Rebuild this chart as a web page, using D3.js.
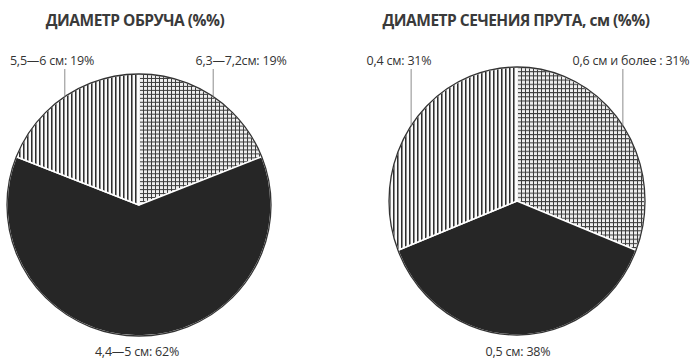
<!DOCTYPE html>
<html>
<head>
<meta charset="utf-8">
<script src="https://cdn.jsdelivr.net/npm/d3@7"></script>
<style>
  body { margin: 0; background: #fff; }
  svg { display: block; }
  .title { font-family: "Open Sans", sans-serif; font-weight: bold; font-size: 15.5px; letter-spacing: -0.5px; fill: #3a3a3a; }
  .lbl { font-family: "Open Sans", sans-serif; font-size: 12.5px; letter-spacing: -0.2px; fill: #333; }
</style>
</head>
<body>
<div id="chart"></div>
<script>

var width = 697,
    height = 359;

// data
var hoopTitle = "ДИАМЕТР ОБРУЧА (%%)";
var hoopLabels = ["6,3—7,2см", "4,4—5 см", "5,5—6 см"];
var hoopValues = [19, 62, 19];

var rodTitle = "ДИАМЕТР СЕЧЕНИЯ ПРУТА, см (%%)";
var rodLabels = ["0,6 см и более ", "0,5 см", "0,4 см"];
var rodValues = [31, 38, 31];

var fillKeys = ["grid", "dark", "vert"];

var svg = d3.select("#chart").append("svg")
    .attr("width", width)
    .attr("height", height);

var defs = svg.append("defs");

// vertical stripes
var pv = defs.append("pattern")
    .attr("id", "vert")
    .attr("patternUnits", "userSpaceOnUse")
    .attr("width", 4).attr("height", 4);
pv.append("rect").attr("width", 4).attr("height", 4).attr("fill", "#fafafa");
pv.append("rect").attr("x", 0).attr("width", 1).attr("height", 4).attr("fill", "#2e2e2e");
pv.append("rect").attr("x", 1).attr("width", 1).attr("height", 4).attr("fill", "#8a8a8a");

// small grid
var pg = defs.append("pattern")
    .attr("id", "grid")
    .attr("patternUnits", "userSpaceOnUse")
    .attr("width", 4).attr("height", 4);
pg.append("rect").attr("width", 4).attr("height", 4).attr("fill", "#eee");
pg.append("rect").attr("x", 0).attr("width", 1).attr("height", 4).attr("fill", "#3c3c3c");
pg.append("rect").attr("y", 0).attr("width", 4).attr("height", 1).attr("fill", "#3c3c3c");

var fills = {grid: "url(#grid)", dark: "#262626", vert: "url(#vert)"};

// label placement (center x offset from pie center, baseline y)
var hoopLayout = [{dx: 102, y: 65}, {dx: -2, y: 356}, {dx: -87, y: 65}];
var rodLayout = [{dx: 114, y: 65}, {dx: 1, y: 356}, {dx: -118, y: 65}];

function drawPie(opts) {
  var g = svg.append("g")
      .attr("transform", "translate(" + opts.cx + "," + opts.cy + ")");

  var pie = d3.pie().sort(null).value(function(d) { return d; });
  var arcs = pie(opts.values);
  var arc = d3.arc().innerRadius(0).outerRadius(opts.r);

  var body = g.append("g")
      .attr("transform", "scale(1," + (opts.ry / opts.r) + ")");

  body.selectAll("path.slice")
    .data(arcs)
    .enter().append("path")
      .attr("class", "slice")
      .attr("d", arc)
      .attr("fill", function(d, i) { return fills[fillKeys[i]]; })
      .attr("stroke", "#fff")
      .attr("stroke-width", 1.5)
      .attr("stroke-linejoin", "round");

  body.append("circle")
      .attr("r", opts.r)
      .attr("fill", "none")
      .attr("stroke", "#333")
      .attr("stroke-width", 1.3);

  // title
  svg.append("text")
      .attr("class", "title")
      .attr("x", opts.titleX)
      .attr("y", 26)
      .attr("text-anchor", "middle")
      .text(opts.title);

  arcs.forEach(function(a, i) {
    var lay = opts.layout[i];
    var mid = (a.startAngle + a.endAngle) / 2;
    var lx = opts.cx + opts.r * Math.sin(mid);
    if (lay.y < opts.cy) {
      var dx = lx - opts.cx;
      var yArc = opts.cy - opts.ry * Math.sqrt(Math.max(0, 1 - (dx * dx) / (opts.r * opts.r)));
      svg.append("line")
          .attr("x1", lx).attr("x2", lx)
          .attr("y1", lay.y + 4).attr("y2", yArc)
          .attr("stroke", "#8c8c8c")
          .attr("stroke-width", 1);
    }
    svg.append("text")
        .attr("class", "lbl")
        .attr("x", opts.cx + lay.dx)
        .attr("y", lay.y)
        .attr("text-anchor", "middle")
        .text(opts.labels[i] + ": " + opts.values[i] + "%");
  });
}

drawPie({cx: 139, cy: 205, r: 132, ry: 131, values: hoopValues, labels: hoopLabels,
  layout: hoopLayout, title: hoopTitle, titleX: 135});
drawPie({cx: 517, cy: 201, r: 128, ry: 134, values: rodValues, labels: rodLabels,
  layout: rodLayout, title: rodTitle, titleX: 516});

</script>
</body>
</html>
